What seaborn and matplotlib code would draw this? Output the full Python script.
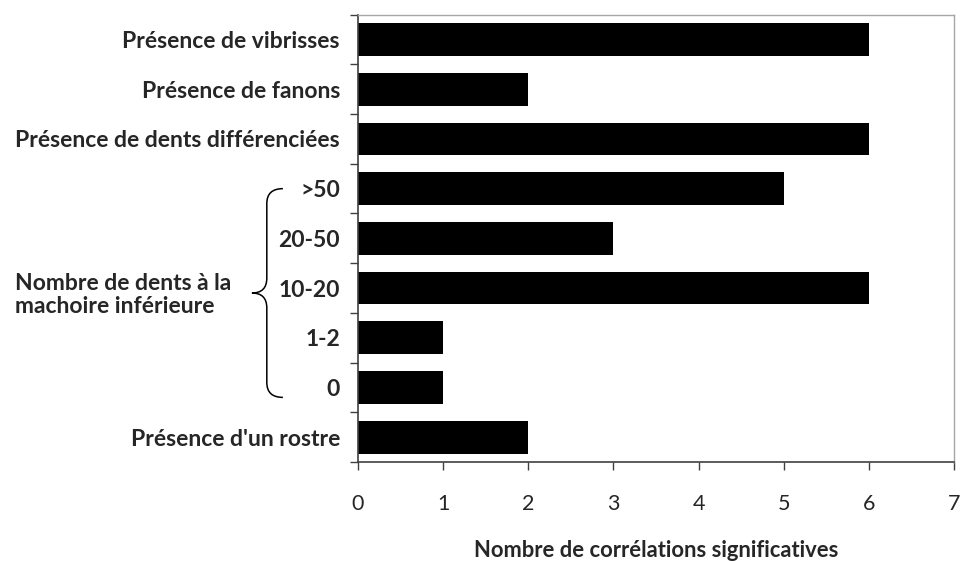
import matplotlib
matplotlib.use("Agg")
import matplotlib.pyplot as plt
from matplotlib.path import Path
from matplotlib.patches import PathPatch
from matplotlib.transforms import blended_transform_factory
import seaborn as sns
import pandas as pd
import numpy as np

categories = [
    "Présence de vibrisses",
    "Présence de fanons",
    "Présence de dents différenciées",
    ">50",
    "20-50",
    "10-20",
    "1-2",
    "0",
    "Présence d'un rostre",
]
counts = [6, 2, 6, 5, 3, 6, 1, 1, 2]
x_ticks = [0, 1, 2, 3, 4, 5, 6, 7]
group_label = "Nombre de dents à la\nmachoire inférieure"
x_label = "Nombre de corrélations significatives"

sns.set_theme(style="white")
plt.rcParams["font.family"] = ["Lato", "DejaVu Sans"]
FS_TICK = 15.5
FS_CAT = 16.5

df = pd.DataFrame({"categorie": categories, "n": counts})

fig = plt.figure(figsize=(9.61, 5.61), dpi=100)
ax = fig.add_axes([358 / 961, 1 - 462 / 561, (954 - 358) / 961, (462 - 14.7) / 561])

sns.barplot(data=df, x="n", y="categorie", order=categories, color="black",
            orient="h", width=0.66, saturation=1, linewidth=0, ax=ax)

ax.set_xlim(0, 7)
ax.set_ylim(len(categories) - 0.5, -0.5)
ax.set_xticks(x_ticks)
ax.set_xticklabels([str(t) for t in x_ticks], fontsize=FS_TICK)
ax.set_yticks(range(len(categories)))
ax.set_yticklabels(categories, fontsize=FS_CAT, fontweight="bold")
ax.set_yticks(np.arange(-0.5, len(categories)), minor=True)
ax.tick_params(axis="y", which="major", length=0, pad=13)
ax.tick_params(axis="y", which="minor", length=6, width=1, color="#404040", direction="out", left=True)
ax.tick_params(axis="x", which="major", length=6, width=1, color="#404040", direction="out", bottom=True, pad=17)
ax.set_ylabel("")
ax.set_xlabel(x_label, fontsize=15.8, fontweight="bold", labelpad=19)

for s in ["left", "bottom"]:
    ax.spines[s].set_color("#404040")
    ax.spines[s].set_linewidth(1.2)
for s in ["top", "right"]:
    ax.spines[s].set_color("#a6a6a6")
    ax.spines[s].set_linewidth(1.0)

# curly brace grouping the tooth-count rows
tr = blended_transform_factory(ax.transAxes, ax.transData)
x_end, x_mid, x_tip = -0.126, -0.153, -0.178
y_top, y_bot = 3.0, 7.2
y_c = (y_top + y_bot) / 2
verts = [
    (x_end, y_top),
    (x_mid, y_top), (x_mid, y_top + 0.3),
    (x_mid, y_c - 0.3),
    (x_mid, y_c), (x_tip, y_c),
    (x_mid, y_c), (x_mid, y_c + 0.3),
    (x_mid, y_bot - 0.3),
    (x_mid, y_bot), (x_end, y_bot),
]
codes = [Path.MOVETO, Path.CURVE3, Path.CURVE3, Path.LINETO,
         Path.CURVE3, Path.CURVE3, Path.CURVE3, Path.CURVE3,
         Path.LINETO, Path.CURVE3, Path.CURVE3]
ax.add_patch(PathPatch(Path(verts, codes), transform=tr, fill=False,
                       edgecolor="black", linewidth=1.1, clip_on=False))

ax.text(-0.575, y_c + 0.04, group_label, transform=tr, ha="left", va="center",
        fontsize=FS_CAT, fontweight="bold", linespacing=1.15)

fig.savefig("out.png", dpi=100)
